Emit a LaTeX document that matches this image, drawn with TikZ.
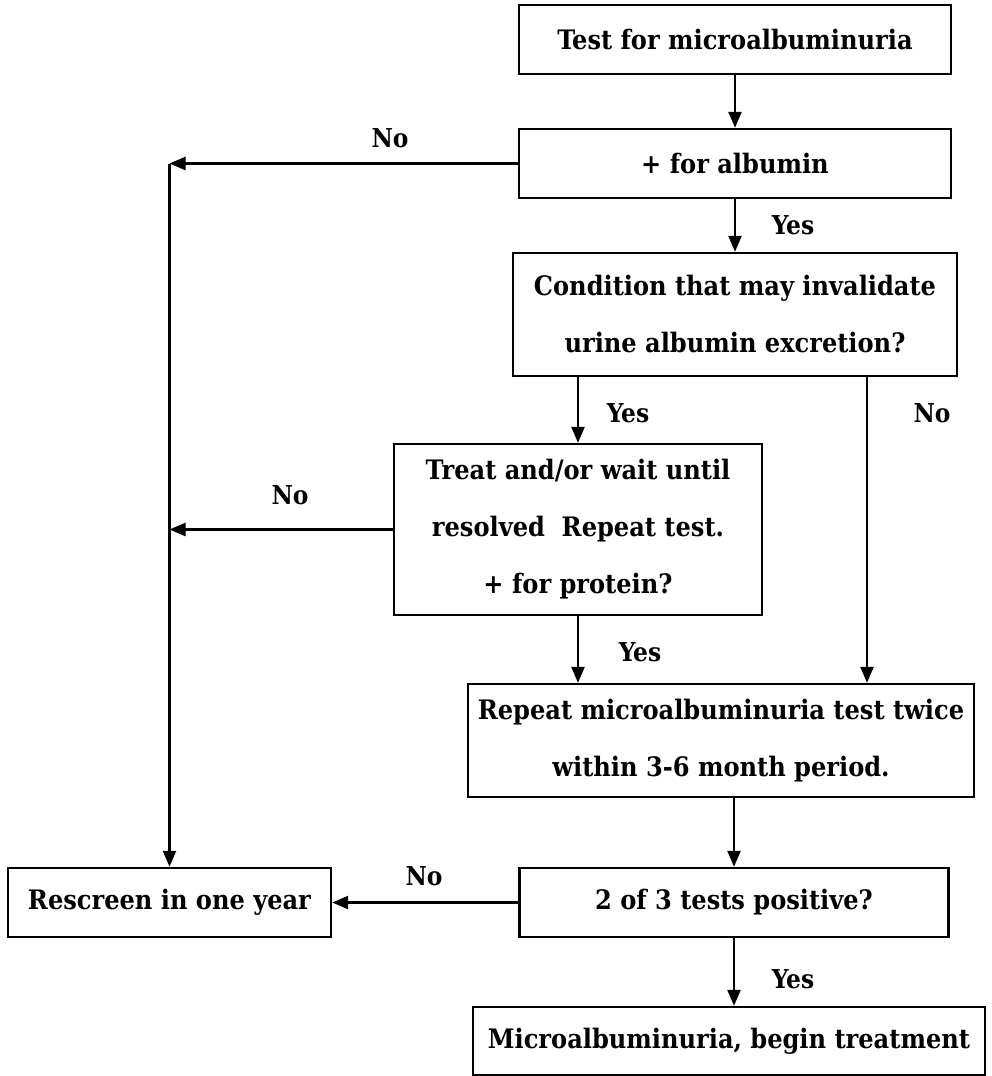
\documentclass[tikz,border=0pt]{standalone}
\usepackage{fontspec}
\newfontfamily\flowfont{DejaVu Serif Condensed Bold}
\usetikzlibrary{arrows.meta}

\tikzset{
  box/.style={draw,line width=2.4pt,align=center,inner sep=0pt,
    font=\flowfont\fontsize{26.8}{57}\selectfont},
  arr/.style={line width=2.4pt,-{Triangle[length=16pt,width=13pt]}},
  lbl/.style={font=\flowfont\fontsize{26}{30}\selectfont}
}

\begin{document}
\begin{tikzpicture}[x=1pt,y=-1pt]
\useasboundingbox (0,0) rectangle (991,1076);
% boxes
\node[box,minimum width=432,minimum height=69] (test) at (735,39.5) {Test for microalbuminuria};
\node[box,minimum width=432,minimum height=69] (alb) at (735,163.5) {+ for albumin};
\node[box,minimum width=444,minimum height=123] (cond) at (735,314.5) {Condition that may invalidate\\urine albumin excretion?};
\node[box,minimum width=368,minimum height=171] (treat) at (578,529.5) {Treat and/or wait until\\resolved~~Repeat test.\\+ for protein?};
\node[box,minimum width=506,minimum height=113] (rep) at (721,740.5) {Repeat microalbuminuria test twice\\within 3-6 month period.};
\node[box,minimum width=429,minimum height=69] (pos) at (734,902.5) {2 of 3 tests positive?};
\node[box,minimum width=512,minimum height=68] (micro) at (729,1041) {Microalbuminuria, begin treatment};
\node[box,minimum width=323,minimum height=69] (rescr) at (169.5,902.5) {Rescreen in one year};
\coordinate (nocol) at (867,0);
% connectors
\draw[arr] (test) -- (alb);
\draw[arr] (alb) -- (cond);
\draw[arr] (alb.west) -- (rescr.north |- alb.west);
\draw[arr] (rescr.north |- alb.west) -- (rescr.north);
\draw[arr] (cond.south -| treat.north) -- (treat.north);
\draw[arr] (cond.south -| nocol) -- (rep.north -| nocol);
\draw[arr] (treat.west) -- (rescr.north |- treat.west);
\draw[arr] (treat.south) -- (treat.south |- rep.north);
\draw[arr] (rep.south -| pos.north) -- (pos.north);
\draw[arr] (pos.west) -- (rescr.east);
\draw[arr] (pos.south) -- (pos.south |- micro.north);
% labels
\foreach \x/\y/\lab in {390/138/No,793/225/Yes,628/413/Yes,932/413/No,290/495/No,640/652/Yes,424/876/No,793/979/Yes}
  {\node[lbl] at (\x,\y) {\lab};}
\end{tikzpicture}
\end{document}
